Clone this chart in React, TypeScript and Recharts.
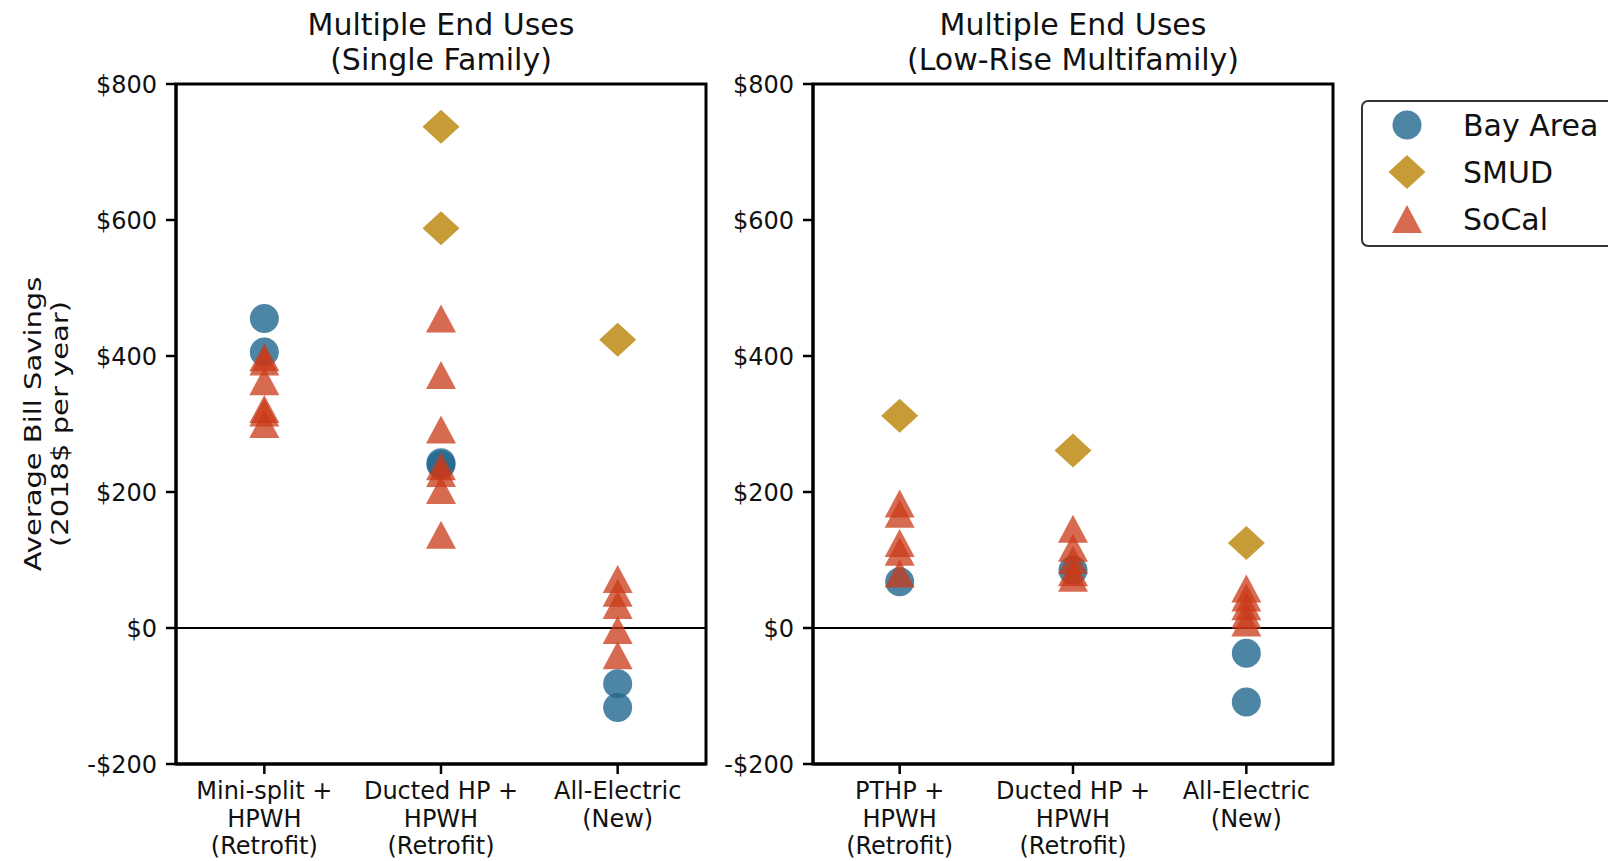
import React from 'react';
import { ScatterChart, Scatter, XAxis, YAxis, ReferenceLine, ReferenceArea } from 'recharts';

const FONT = '"DejaVu Sans", Verdana, sans-serif';

// x tick labels, one entry per category (lines of text)
const singleFamilyCategories = [
  ['Mini-split +', 'HPWH', '(Retrofit)'],
  ['Ducted HP +', 'HPWH', '(Retrofit)'],
  ['All-Electric', '(New)'],
];
const multifamilyCategories = [
  ['PTHP +', 'HPWH', '(Retrofit)'],
  ['Ducted HP +', 'HPWH', '(Retrofit)'],
  ['All-Electric', '(New)'],
];

// savings in $ per year, one list per category
const sfBayArea = [[455, 406], [243, 240], [-82, -117]];
const sfSmud = [[], [737, 588], [424]];
const sfSoCal = [
  [398, 392, 363, 322, 317, 300],
  [455, 372, 292, 238, 228, 203, 137],
  [72, 52, 34, -3, -40],
];

const mfBayArea = [[68], [85], [-37, -109]];
const mfSmud = [[312], [261], [125]];
const mfSoCal = [
  [183, 168, 125, 112, 80],
  [146, 118, 100, 82, 74],
  [58, 45, 32, 20, 8],
];

const yTicks = [-200, 0, 200, 400, 600, 800];
const xTicks = [0, 1, 2];

const BLUE = '#21678f';
const GOLD = '#bd8b14';
const RED = '#c93a18';

const toPoints = (vals: number[][]) =>
  vals.flatMap((list, i) => list.map((v) => ({ x: i, y: v })));

const Circle = (p: any) => (
  <circle cx={p.cx} cy={p.cy} r={14.5} fill={BLUE} fillOpacity={0.8} />
);
const Diamond = (p: any) => (
  <polygon
    points={`${p.cx},${p.cy - 17} ${p.cx + 18.5},${p.cy} ${p.cx},${p.cy + 17} ${p.cx - 18.5},${p.cy}`}
    fill={GOLD}
    fillOpacity={0.85}
  />
);
const Triangle = (p: any) => (
  <polygon
    points={`${p.cx},${p.cy - 14} ${p.cx + 15},${p.cy + 14} ${p.cx - 15},${p.cy + 14}`}
    fill={RED}
    fillOpacity={0.75}
  />
);

const fmtMoney = (v: number) => (v < 0 ? `-$${-v}` : `$${v}`);

const makeXTick = (cats: string[][]) => (props: any) => {
  const { x, y, payload } = props;
  const lines = cats[payload.value] || [];
  return (
    <text x={x} y={y} textAnchor="middle" fontSize={24} fill="#111" fontFamily={FONT}>
      {lines.map((l, i) => (
        <tspan key={i} x={x} dy={i === 0 ? '0.71em' : 27.5}>
          {l}
        </tspan>
      ))}
    </text>
  );
};

interface PanelProps {
  left: number;
  width: number;
  yAxisWidth: number;
  cats: string[][];
  bay: number[][];
  smud: number[][];
  socal: number[][];
}

function Panel({ left, width, yAxisWidth, cats, bay, smud, socal }: PanelProps) {
  return (
    <div style={{ position: 'absolute', left, top: 0 }}>
      <ScatterChart width={width} height={861} margin={{ top: 84, right: 7, bottom: 0, left: 0 }}>
        <XAxis
          type="number"
          dataKey="x"
          domain={[-0.5, 2.5]}
          ticks={xTicks}
          interval={0}
          height={97}
          tickSize={10}
          tickMargin={8}
          tick={makeXTick(cats)}
          axisLine={{ stroke: '#000', strokeWidth: 3 }}
          tickLine={{ stroke: '#000', strokeWidth: 2.5 }}
          allowDataOverflow
        />
        <YAxis
          type="number"
          dataKey="y"
          domain={[-200, 800]}
          ticks={yTicks}
          interval={0}
          width={yAxisWidth}
          tickSize={10}
          tickMargin={9}
          tickFormatter={fmtMoney}
          tick={{ fontSize: 24, fill: '#111', fontFamily: FONT }}
          axisLine={{ stroke: '#000', strokeWidth: 3 }}
          tickLine={{ stroke: '#000', strokeWidth: 2.5 }}
          allowDataOverflow
        />
        <ReferenceArea
          x1={-0.5}
          x2={2.5}
          y1={-200}
          y2={800}
          fill="none"
          fillOpacity={0}
          stroke="#000"
          strokeWidth={3}
        />
        <ReferenceLine y={0} stroke="#000" strokeWidth={2} />
        <Scatter name="Bay Area" data={toPoints(bay)} shape={Circle} isAnimationActive={false} />
        <Scatter name="SMUD" data={toPoints(smud)} shape={Diamond} isAnimationActive={false} />
        <Scatter name="SoCal" data={toPoints(socal)} shape={Triangle} isAnimationActive={false} />
      </ScatterChart>
    </div>
  );
}

const legendItems = [
  { name: 'Bay Area', shape: Circle },
  { name: 'SMUD', shape: Diamond },
  { name: 'SoCal', shape: Triangle },
];

export default function App() {
  return (
    <div
      style={{
        position: 'absolute',
        left: 0,
        top: 0,
        width: 1608,
        height: 861,
        overflow: 'hidden',
        background: '#fff',
        fontFamily: FONT,
      }}
    >
      <Panel
        left={0}
        width={713}
        yAxisWidth={176}
        cats={singleFamilyCategories}
        bay={sfBayArea}
        smud={sfSmud}
        socal={sfSoCal}
      />
      <Panel
        left={712}
        width={628}
        yAxisWidth={101}
        cats={multifamilyCategories}
        bay={mfBayArea}
        smud={mfSmud}
        socal={mfSoCal}
      />
      <svg
        width={1608}
        height={861}
        style={{ position: 'absolute', left: 0, top: 0, pointerEvents: 'none' }}
      >
        <g fontFamily={FONT} fill="#111" fontSize={30} textAnchor="middle">
          <text x={441} y={35}>Multiple End Uses</text>
          <text x={441} y={70}>(Single Family)</text>
          <text x={1073} y={35}>Multiple End Uses</text>
          <text x={1073} y={70}>(Low-Rise Multifamily)</text>
        </g>
        {/* y label: the reference glyphs are narrow, so squeeze them across the line */}
        <g fontFamily={FONT} fill="#111" fontSize={29} textAnchor="middle">
          <text transform="translate(41, 424) rotate(-90) scale(1, 0.82)">Average Bill Savings</text>
          <text transform="translate(68, 424) rotate(-90) scale(1, 0.82)">(2018$ per year)</text>
        </g>
        <rect x={1362} y={101} width={262} height={145} rx={6} fill="#fff" stroke="#333" strokeWidth={2} />
        {legendItems.map((item, i) => {
          const cy = 125 + i * 47;
          const Shape = item.shape;
          return (
            <g key={item.name}>
              <Shape cx={1407} cy={cy} />
              <text x={1463} y={cy} dy="0.36em" fontSize={30} fill="#111" fontFamily={FONT}>
                {item.name}
              </text>
            </g>
          );
        })}
      </svg>
    </div>
  );
}
